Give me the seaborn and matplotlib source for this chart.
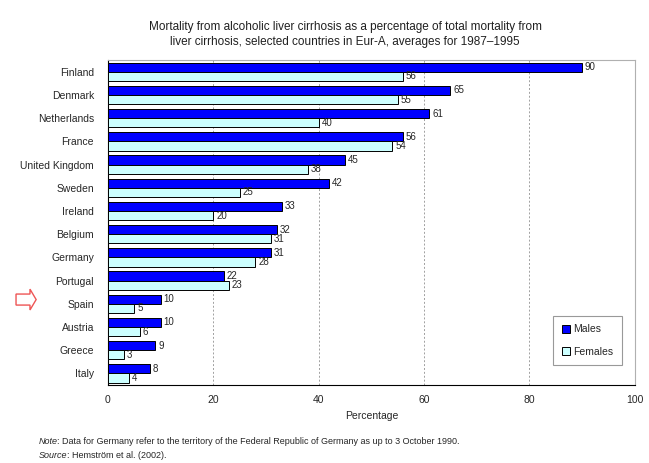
import matplotlib
matplotlib.use("Agg")
import matplotlib.pyplot as plt
import seaborn as sns
import pandas as pd
from matplotlib.patches import FancyArrow

countries = ["Finland", "Denmark", "Netherlands", "France", "United Kingdom", "Sweden",
             "Ireland", "Belgium", "Germany", "Portugal", "Spain", "Austria", "Greece", "Italy"]
males = [90, 65, 61, 56, 45, 42, 33, 32, 31, 22, 10, 10, 9, 8]
females = [56, 55, 40, 54, 38, 25, 20, 31, 28, 23, 5, 6, 3, 4]
series = ["Males", "Females"]
colors = ["#0000ff", "#ccffff"]
xticks = [0, 20, 40, 60, 80, 100]

df = pd.DataFrame({
    "Country": countries * 2,
    "Sex": [series[0]] * len(countries) + [series[1]] * len(countries),
    "Value": males + females,
})

sns.set_style("white")
plt.rcParams["font.family"] = ["Liberation Sans", "DejaVu Sans"]

fig = plt.figure(figsize=(6.49, 4.63), dpi=100)
ax = fig.add_axes([0.1664, 0.1685, 0.8116, 0.7015])

sns.barplot(data=df, y="Country", x="Value", hue="Sex", order=countries,
            hue_order=series, palette=colors, orient="h", width=0.8,
            edgecolor="black", linewidth=0.7, saturation=1, ax=ax, zorder=3)

for cont in ax.containers:
    ax.bar_label(cont, fmt="%d", padding=2, fontsize=7)

ax.set_xlim(0, 100)
ax.set_xticks(xticks)
ax.set_xticklabels([str(t) for t in xticks], fontsize=7.5)
ax.set_ylim(len(countries) - 0.5, -0.5)
ax.set_yticks(range(len(countries)))
ax.set_yticklabels(countries, fontsize=7.5)
ax.tick_params(axis="y", length=0, pad=10)
# boundary tick marks between categories
ax.set_yticks([i - 0.5 for i in range(len(countries) + 1)], minor=True)
ax.tick_params(axis="y", which="minor", length=4, width=0.8, color="black", direction="out")
ax.tick_params(axis="x", length=4, width=0.8, color="black", direction="out")

for x in xticks[1:-1]:
    ax.axvline(x, color="#a0a0a0", linestyle=(0, (2, 2)), linewidth=0.7, zorder=1)

ax.set_xlabel("Percentage", fontsize=7.5)
ax.set_ylabel("")

for side in ["top", "right"]:
    ax.spines[side].set_color("#b0b0b0")
    ax.spines[side].set_linewidth(0.8)
for side in ["left", "bottom"]:
    ax.spines[side].set_color("black")
    ax.spines[side].set_linewidth(0.8)

leg = ax.legend(loc="lower right", bbox_to_anchor=(0.985, 0.045), fontsize=7.5,
                frameon=True, fancybox=False, edgecolor="#808080",
                handlelength=0.8, handleheight=0.8, handletextpad=0.3,
                labelspacing=1.2, borderpad=0.8)
leg.get_frame().set_linewidth(0.8)

fig.text(0.532, 0.955, "Mortality from alcoholic liver cirrhosis as a percentage of total mortality from\n"
         "liver cirrhosis, selected countries in Eur-A, averages for 1987\u20131995",
         ha="center", va="top", fontsize=8.5, color="#202020", linespacing=1.3)

# footnotes: italic lead word followed by regular text
note_lead = fig.text(0.059, 0.047, "Note", style="italic", fontsize=6.5, ha="left", va="center")
fig.canvas.draw()
ax.annotate(": Data for Germany refer to the territory of the Federal Republic of Germany as up to 3 October 1990.",
            xy=(1, 0.5), xycoords=note_lead, fontsize=6.5, ha="left", va="center",
            annotation_clip=False)
src_lead = fig.text(0.059, 0.017, "Source", style="italic", fontsize=6.5, ha="left", va="center")
ax.annotate(": Hemstr\u00f6m et al. (2002).", xy=(1, 0.5), xycoords=src_lead,
            fontsize=6.5, ha="left", va="center", annotation_clip=False)

arrow = FancyArrow(0.0247, 0.353, 0.031, 0.0, width=0.0238, head_width=0.045,
                   head_length=0.0095, length_includes_head=True,
                   transform=fig.transFigure, facecolor="white",
                   edgecolor="#ee5555", linewidth=1.0)
fig.patches.append(arrow)

fig.savefig("out.png", dpi=100)
